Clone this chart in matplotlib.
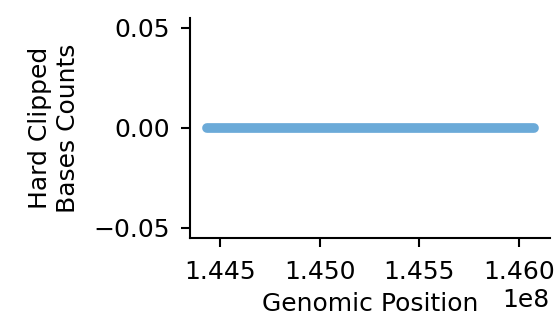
import matplotlib
matplotlib.use("Agg")
import matplotlib.pyplot as plt

# Data: hard clipped base counts along genomic positions (all zero)
positions = [1.44432e8, 1.46073e8]
counts = [0, 0]

plt.rcParams['font.family'] = ['DejaVu Sans']
plt.rcParams['xtick.labelsize'] = 18
plt.rcParams['ytick.labelsize'] = 18
plt.rcParams['xtick.major.pad'] = 9.5
plt.rcParams['ytick.major.pad'] = 8
plt.rcParams['xtick.major.size'] = 6.5
plt.rcParams['ytick.major.size'] = 6.5
plt.rcParams['xtick.major.width'] = 1.5
plt.rcParams['ytick.major.width'] = 1.5
plt.rcParams['axes.linewidth'] = 1.5

fig = plt.figure(figsize=(5.56, 3.21), dpi=100)
ax = fig.add_axes([0.342, 0.259, 0.647, 0.685])
ax.plot(positions, counts, color='#6baad8', linewidth=7, solid_capstyle='round')
ax.set_ylim(-0.055, 0.055)
ax.set_xticks([1.445e8, 1.450e8, 1.455e8, 1.460e8])
ax.set_yticks([-0.05, 0.0, 0.05])
ax.spines['top'].set_visible(False)
ax.spines['right'].set_visible(False)
ax.set_xlabel('Genomic Position', fontsize=18, labelpad=6)
ax.set_ylabel('Hard Clipped\nBases Counts', fontsize=18, labelpad=10)
ax.xaxis.get_offset_text().set_fontsize(18)
fig.savefig('out.png', dpi=100)
